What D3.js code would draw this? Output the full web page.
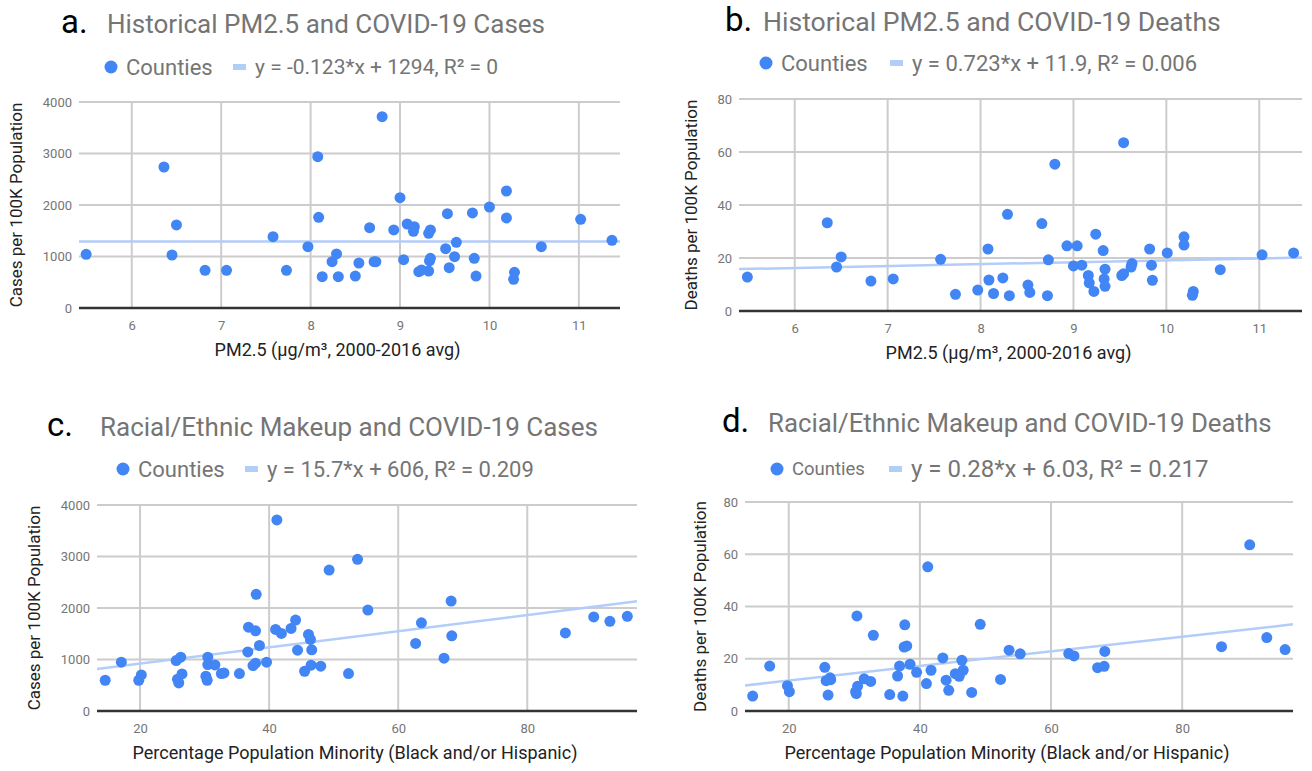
<!DOCTYPE html>
<html>
<head>
<meta charset="utf-8">
<script src="https://cdn.jsdelivr.net/npm/d3@7"></script>
<style>
  body { margin: 0; background: #fff; }
  svg text { font-family: Roboto, "Noto Sans", sans-serif; }
</style>
</head>
<body>
<svg id="chart" width="1312" height="771"></svg>
<script>
// [pm2.5, cases per 100k]
var pmCases = [
  [5.49,1043],[6.36,2738],[6.50,1612],[6.45,1029],[6.82,732],[7.06,732],[7.58,1385],[7.73,732],
  [7.97,1191],[8.08,2938],[8.09,1761],[8.13,608],[8.24,899],[8.29,1049],[8.31,608],[8.50,621],
  [8.54,874],[8.66,1559],[8.71,899],[8.73,899],[8.80,3715],[8.93,1515],[9.00,2142],[9.04,938],
  [9.08,1631],[9.16,1579],[9.15,1489],[9.21,705],[9.24,738],[9.32,718],[9.32,1450],[9.34,1515],
  [9.33,913],[9.34,965],[9.55,783],[9.53,1831],[9.51,1151],[9.63,1276],[9.61,996],[9.81,1845],
  [9.83,965],[9.85,621],[10.00,1961],[10.19,2272],[10.19,1748],[10.28,693],[10.27,557],[10.58,1191],
  [11.02,1722],[11.37,1314]
];
// [pm2.5, deaths per 100k]
var pmDeaths = [
  [5.49,12.8],[6.35,33.3],[6.50,20.4],[6.45,16.6],[6.82,11.3],[7.06,12.1],[7.57,19.5],[7.73,6.3],
  [7.97,7.9],[8.08,23.4],[8.09,11.7],[8.14,6.6],[8.24,12.5],[8.29,36.5],[8.31,5.8],[8.51,9.8],
  [8.53,7.0],[8.66,33.0],[8.72,5.8],[8.73,19.3],[8.80,55.4],[8.93,24.6],[9.04,24.6],[9.00,17.0],
  [9.09,17.3],[9.16,13.4],[9.17,10.6],[9.22,7.4],[9.24,29.0],[9.32,22.8],[9.34,15.8],[9.33,12.1],
  [9.34,9.3],[9.52,13.4],[9.54,14.1],[9.62,16.6],[9.63,17.9],[9.54,63.5],[9.82,23.4],[9.84,17.3],
  [9.85,11.6],[10.01,21.9],[10.19,28.0],[10.19,24.9],[10.29,7.4],[10.28,5.9],[10.58,15.6],[11.03,21.2],
  [11.37,21.9]
];
// [% minority, cases per 100k]
var minCases = [
  [14.6,597],[17.1,947],[19.8,597],[20.2,700],[25.6,980],[26.3,1045],[25.8,617],[26.0,545],
  [26.5,720],[30.5,1045],[30.5,902],[31.6,895],[30.2,675],[30.4,597],[32.6,727],[33.0,739],
  [35.4,727],[36.7,1148],[36.8,1628],[37.9,1556],[38.0,2265],[37.5,883],[37.9,928],[38.5,1272],
  [39.6,947],[41.2,3710],[41.0,1584],[41.9,1506],[43.4,1603],[44.1,1765],[44.4,1181],[46.1,1486],
  [46.4,1389],[46.6,1187],[46.5,889],[45.5,772],[48.0,870],[49.3,2737],[53.7,2945],[52.3,727],
  [55.3,1959],[63.6,1712],[62.7,1311],[67.1,1025],[68.2,2134],[68.3,1459],[85.9,1516],[90.3,1826],
  [92.8,1742],[95.5,1839]
];
// [% minority, deaths per 100k]
var minDeaths = [
  [14.5,5.7],[17.1,17.2],[19.8,9.7],[20.1,7.4],[25.5,16.7],[25.7,11.6],[26.3,12.7],[26.4,12.0],
  [26.0,6.1],[30.2,7.4],[30.3,6.7],[30.5,9.5],[30.4,36.4],[31.5,12.3],[32.5,11.3],[32.9,29.0],
  [35.4,6.3],[36.6,13.4],[36.9,17.2],[37.4,5.7],[37.7,33.0],[37.6,24.5],[38.0,24.9],[38.5,17.9],
  [39.5,14.8],[41.2,55.2],[41.0,10.5],[41.7,15.6],[43.5,20.3],[44.0,11.8],[44.4,7.9],[46.4,19.4],
  [46.6,15.6],[45.4,14.3],[46.0,13.3],[47.9,7.1],[49.2,33.2],[52.3,12.1],[53.6,23.3],[55.3,21.9],
  [62.7,22.0],[63.5,21.1],[67.1,16.6],[68.1,17.1],[68.2,22.8],[86.0,24.6],[90.3,63.6],[92.9,28.1],
  [95.7,23.5]
];

var pmTicks = [6, 7, 8, 9, 10, 11];
var minTicks = [20, 40, 60, 80];
var casesTicks = [0, 1000, 2000, 3000, 4000];
var deathsTicks = [0, 20, 40, 60, 80];

// trend lines: [slope, intercept]
var fitA = [-0.123, 1294], fitB = [0.723, 11.9], fitC = [15.7, 606], fitD = [0.28, 6.03];

var pointColor = "#4285f4", trendColor = "#b3cdfa";

var svg = d3.select("#chart");

function panel(o) {
  var g = svg.append("g");
  var x = d3.scaleLinear().domain(o.xDomain).range([o.left, o.right]);
  var y = d3.scaleLinear().domain(o.yDomain).range([o.bottom, o.top]);

  // gridlines
  g.selectAll(".vg").data(o.xTicks).enter().append("line")
    .attr("x1", function(d) { return x(d); }).attr("x2", function(d) { return x(d); })
    .attr("y1", o.top).attr("y2", o.bottom)
    .attr("stroke", "#cccccc").attr("stroke-width", 2);
  g.selectAll(".hg").data(o.yTicks.filter(function(d) { return d != 0; })).enter().append("line")
    .attr("x1", o.left).attr("x2", o.right)
    .attr("y1", function(d) { return y(d); }).attr("y2", function(d) { return y(d); })
    .attr("stroke", "#cccccc").attr("stroke-width", 2);

  // axes via d3, styled like google charts
  var xa = g.append("g").attr("transform", "translate(0," + (o.bottom + 17) + ")")
    .call(d3.axisBottom(x).tickValues(o.xTicks).tickFormat(function(d) { return d; }).tickSize(0).tickPadding(0));
  xa.select(".domain").remove();
  xa.selectAll("text").attr("fill", "#757575").attr("font-size", 13).attr("dy", "0.35em")
    .attr("font-family", "Roboto");
  var ya = g.append("g").attr("transform", "translate(" + (o.left - 7) + ",0)")
    .call(d3.axisLeft(y).tickValues(o.yTicks).tickFormat(function(d) { return d; }).tickSize(0).tickPadding(0));
  ya.select(".domain").remove();
  ya.selectAll("text").attr("fill", "#757575").attr("font-size", 13).attr("font-family", "Roboto");

  // baseline
  g.append("line").attr("x1", o.left).attr("x2", o.right)
    .attr("y1", y(0)).attr("y2", y(0)).attr("stroke", "#333").attr("stroke-width", 2.5);

  // trend line
  g.append("line")
    .attr("x1", x(o.xDomain[0])).attr("y1", y(o.fit[0] * o.xDomain[0] + o.fit[1]))
    .attr("x2", x(o.xDomain[1])).attr("y2", y(o.fit[0] * o.xDomain[1] + o.fit[1]))
    .attr("stroke", trendColor).attr("stroke-width", 2.5);

  // points
  g.selectAll("circle").data(o.data).enter().append("circle")
    .attr("cx", function(d) { return x(d[0]); })
    .attr("cy", function(d) { return y(d[1]); })
    .attr("r", 5.5).attr("fill", pointColor);

  // panel letter + title
  g.append("text").attr("x", o.letterX).attr("y", o.titleY).attr("font-size", 33)
    .attr("fill", "#000").text(o.letter);
  g.append("text").attr("x", o.titleX).attr("y", o.titleY).attr("font-size", o.titleSize || 26)
    .attr("fill", "#757575").text(o.title);

  // legend
  g.append("circle").attr("cx", o.legX).attr("cy", o.legY).attr("r", 6.5).attr("fill", pointColor);
  g.append("text").attr("x", o.legX + 15).attr("y", o.legY).attr("dy", "0.35em")
    .attr("font-size", o.legSize1).attr("fill", "#757575").text("Counties");
  g.append("rect").attr("x", o.legLineX).attr("y", o.legY - 3).attr("width", 13).attr("height", 6)
    .attr("fill", trendColor);
  g.append("text").attr("x", o.legLineX + 22).attr("y", o.legY).attr("dy", "0.35em")
    .attr("font-size", o.legSize2).attr("fill", "#757575").text(o.eq);

  // axis titles
  g.append("text").attr("transform", "translate(" + o.yTitleX + "," + ((o.top + o.bottom) / 2) + ") rotate(-90)")
    .attr("text-anchor", "middle").attr("font-size", 17).attr("fill", "#222").text(o.yTitle);
  g.append("text").attr("x", (o.left + o.right) / 2 - 12).attr("y", o.bottom + 48)
    .attr("text-anchor", "middle").attr("font-size", 18).attr("fill", "#222").text(o.xTitle);
}

panel({
  data: pmCases, fit: fitA, xDomain: [5.41, 11.46], yDomain: [0, 4000],
  xTicks: pmTicks, yTicks: casesTicks,
  left: 79, right: 620, top: 102, bottom: 308,
  letter: "a.", letterX: 61, title: "Historical PM2.5 and COVID-19 Cases", titleX: 107, titleY: 33,
  legX: 111, legY: 67, legSize1: 22, legLineX: 233, legSize2: 21,
  eq: "y = -0.123*x + 1294, R\u00b2 = 0",
  yTitle: "Cases per 100K Population", yTitleX: 22, xTitle: "PM2.5 (\u00b5g/m\u00b3, 2000-2016 avg)"
});
panel({
  data: pmDeaths, fit: fitB, xDomain: [5.40, 11.46], yDomain: [0, 80],
  xTicks: pmTicks, yTicks: deathsTicks,
  left: 739, right: 1302, top: 99, bottom: 311,
  letter: "b.", letterX: 725, title: "Historical PM2.5 and COVID-19 Deaths", titleX: 763, titleY: 31,
  titleSize: 26.6,
  legX: 766, legY: 63, legSize1: 22, legLineX: 890, legSize2: 22,
  eq: "y = 0.723*x + 11.9, R\u00b2 = 0.006",
  yTitle: "Deaths per 100K Population", yTitleX: 697, xTitle: "PM2.5 (\u00b5g/m\u00b3, 2000-2016 avg)"
});
panel({
  data: minCases, fit: fitC, xDomain: [13.33, 97], yDomain: [0, 4000],
  xTicks: minTicks, yTicks: casesTicks,
  left: 97, right: 637, top: 505, bottom: 711,
  letter: "c.", letterX: 47, title: "Racial/Ethnic Makeup and COVID-19 Cases", titleX: 100, titleY: 436,
  legX: 123, legY: 469, legSize1: 22, legLineX: 245, legSize2: 22,
  eq: "y = 15.7*x + 606, R\u00b2 = 0.209",
  yTitle: "Cases per 100K Population", yTitleX: 40, xTitle: "Percentage Population Minority (Black and/or Hispanic)"
});
panel({
  data: minDeaths, fit: fitD, xDomain: [13.33, 96.9], yDomain: [0, 80],
  xTicks: minTicks, yTicks: deathsTicks,
  left: 745, right: 1293, top: 502, bottom: 711,
  letter: "d.", letterX: 722, title: "Racial/Ethnic Makeup and COVID-19 Deaths", titleX: 768, titleY: 432,
  titleSize: 25.8,
  legX: 777, legY: 469, legSize1: 18.5, legLineX: 889, legSize2: 24,
  eq: "y = 0.28*x + 6.03, R\u00b2 = 0.217",
  yTitle: "Deaths per 100K Population", yTitleX: 706, xTitle: "Percentage Population Minority (Black and/or Hispanic)"
});
</script>
</body>
</html>
